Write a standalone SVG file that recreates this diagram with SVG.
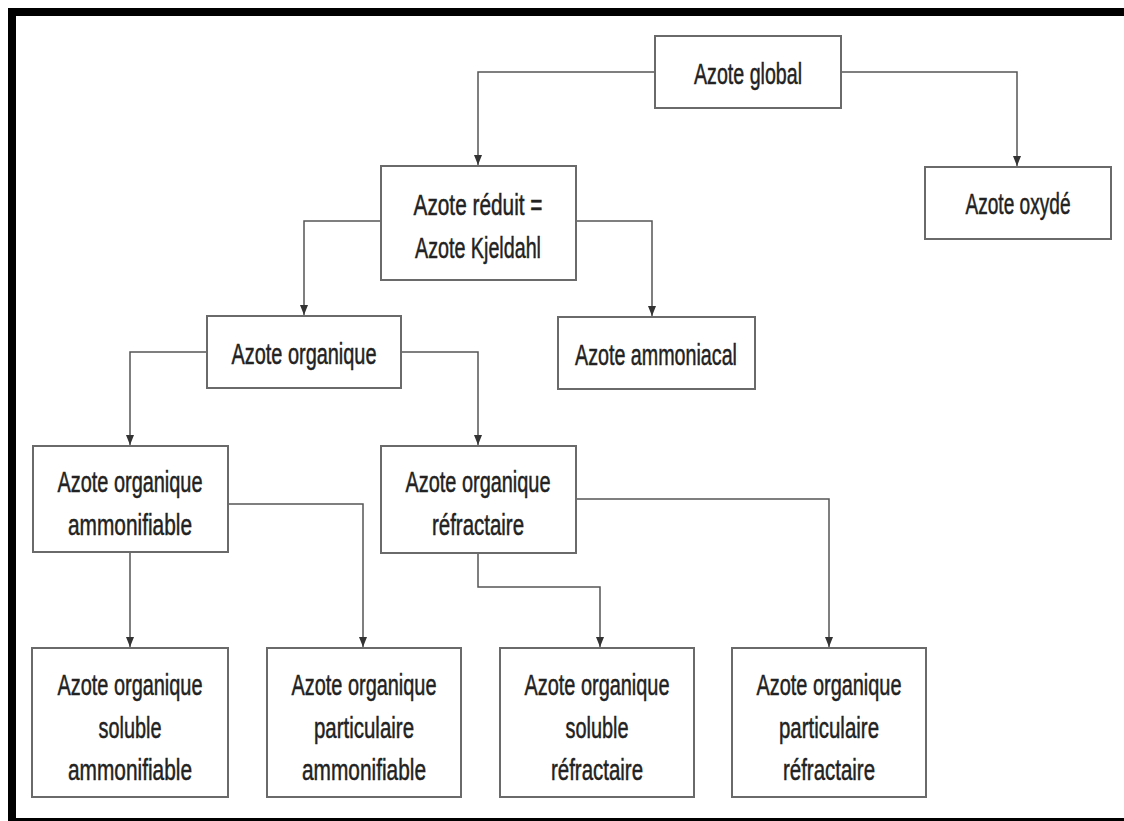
<svg xmlns="http://www.w3.org/2000/svg" width="1124" height="821" viewBox="0 0 1124 821">
<style>
.box{fill:#fff;stroke:#6a6a6a;stroke-width:2}
.t{font-family:"Liberation Sans",Arial,sans-serif;font-size:30px;fill:#222;stroke:#222;stroke-width:0.5;text-anchor:middle}
.c{fill:none;stroke:#555;stroke-width:1.5;marker-end:url(#ah)}
</style>
<defs>
<marker id="ah" markerUnits="userSpaceOnUse" markerWidth="10" markerHeight="8" refX="10" refY="4" orient="auto" viewBox="0 0 10 8">
<path d="M0,0 L10,4 L0,8 Z" fill="#333"/>
</marker>
</defs>
<rect x="0" y="0" width="1124" height="821" fill="#fff"/>
<g id="frame" fill="#000">
<rect x="8" y="8" width="1116" height="8"/>
<rect x="8" y="8" width="8" height="813"/>
<rect x="8" y="818" width="1116" height="3"/>
</g>
<g id="connectors">
<path class="c" d="M655,72 H478 V165"/>
<path class="c" d="M841,72 H1017 V166"/>
<path class="c" d="M381,221 H304 V315"/>
<path class="c" d="M576,221 H652 V316"/>
<path class="c" d="M207,352 H130 V445"/>
<path class="c" d="M401,352 H478 V445"/>
<path class="c" d="M130,552 V647"/>
<path class="c" d="M228,504 H363 V647"/>
<path class="c" d="M478,553 V587 H600 V647"/>
<path class="c" d="M576,499 H829 V647"/>
</g>
<g id="n-global"><rect class="box" x="655" y="36" width="186" height="72"/><text class="t" x="748" y="84" textLength="108" lengthAdjust="spacingAndGlyphs">Azote global</text></g>
<g id="n-oxyde"><rect class="box" x="925" y="167" width="186" height="72"/><text class="t" x="1018" y="214" textLength="105" lengthAdjust="spacingAndGlyphs">Azote oxydé</text></g>
<g id="n-reduit"><rect class="box" x="381" y="166" width="195" height="114"/><text class="t" x="478" y="215" textLength="129" lengthAdjust="spacingAndGlyphs">Azote réduit =</text><text class="t" x="478" y="258" textLength="126" lengthAdjust="spacingAndGlyphs">Azote Kjeldahl</text></g>
<g id="n-organique"><rect class="box" x="207" y="316" width="194" height="72"/><text class="t" x="304" y="364" textLength="145" lengthAdjust="spacingAndGlyphs">Azote organique</text></g>
<g id="n-ammoniacal"><rect class="box" x="558" y="317" width="197" height="72"/><text class="t" x="656" y="365" textLength="162" lengthAdjust="spacingAndGlyphs">Azote ammoniacal</text></g>
<g id="n-ammonifiable"><rect class="box" x="33" y="446" width="195" height="106"/><text class="t" x="130" y="492" textLength="145" lengthAdjust="spacingAndGlyphs">Azote organique</text><text class="t" x="130" y="535" textLength="124" lengthAdjust="spacingAndGlyphs">ammonifiable</text></g>
<g id="n-refractaire"><rect class="box" x="381" y="446" width="195" height="107"/><text class="t" x="478" y="492" textLength="145" lengthAdjust="spacingAndGlyphs">Azote organique</text><text class="t" x="478" y="535" textLength="92" lengthAdjust="spacingAndGlyphs">réfractaire</text></g>
<g id="n-sol-amm"><rect class="box" x="32" y="648" width="196" height="149"/><text class="t" x="130" y="695" textLength="145" lengthAdjust="spacingAndGlyphs">Azote organique</text><text class="t" x="130" y="738" textLength="63" lengthAdjust="spacingAndGlyphs">soluble</text><text class="t" x="130" y="780" textLength="124" lengthAdjust="spacingAndGlyphs">ammonifiable</text></g>
<g id="n-part-amm"><rect class="box" x="267" y="648" width="194" height="149"/><text class="t" x="364" y="695" textLength="145" lengthAdjust="spacingAndGlyphs">Azote organique</text><text class="t" x="364" y="738" textLength="100" lengthAdjust="spacingAndGlyphs">particulaire</text><text class="t" x="364" y="780" textLength="124" lengthAdjust="spacingAndGlyphs">ammonifiable</text></g>
<g id="n-sol-ref"><rect class="box" x="500" y="648" width="194" height="149"/><text class="t" x="597" y="695" textLength="145" lengthAdjust="spacingAndGlyphs">Azote organique</text><text class="t" x="597" y="738" textLength="63" lengthAdjust="spacingAndGlyphs">soluble</text><text class="t" x="597" y="780" textLength="92" lengthAdjust="spacingAndGlyphs">réfractaire</text></g>
<g id="n-part-ref"><rect class="box" x="732" y="648" width="194" height="149"/><text class="t" x="829" y="695" textLength="145" lengthAdjust="spacingAndGlyphs">Azote organique</text><text class="t" x="829" y="738" textLength="100" lengthAdjust="spacingAndGlyphs">particulaire</text><text class="t" x="829" y="780" textLength="92" lengthAdjust="spacingAndGlyphs">réfractaire</text></g>
</svg>
